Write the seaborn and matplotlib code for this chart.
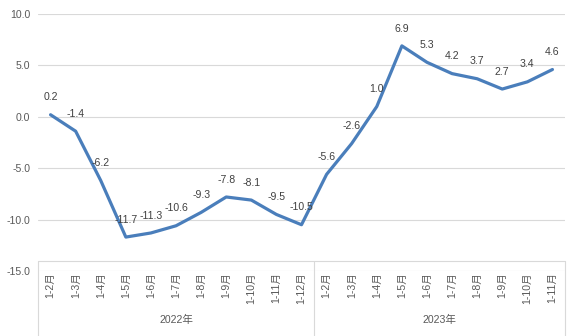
import matplotlib
matplotlib.use("Agg")
import matplotlib.pyplot as plt
from matplotlib.lines import Line2D
import seaborn as sns
import pandas as pd

categories = ["1-2月", "1-3月", "1-4月", "1-5月", "1-6月", "1-7月", "1-8月", "1-9月", "1-10月", "1-11月", "1-12月",
              "1-2月", "1-3月", "1-4月", "1-5月", "1-6月", "1-7月", "1-8月", "1-9月", "1-10月", "1-11月"]
values = [0.2, -1.4, -6.2, -11.7, -11.3, -10.6, -9.3, -7.8, -8.1, -9.5, -10.5,
          -5.6, -2.6, 1.0, 6.9, 5.3, 4.2, 3.7, 2.7, 3.4, 4.6]
years = ["2022年", "2023年"]
year_counts = [11, 10]
yticks = [10.0, 5.0, 0.0, -5.0, -10.0, -15.0]

sns.set_theme(style="white")
plt.rcParams['font.family'] = ['Liberation Sans', 'Noto Sans CJK SC', 'DejaVu Sans']

W, H = 586, 336
fig = plt.figure(figsize=(W / 100, H / 100), dpi=100)
left, right, top, bottom = 38, 565, 14, 271
ax = fig.add_axes([left / W, (H - bottom) / H, (right - left) / W, (bottom - top) / H])

df = pd.DataFrame({"idx": list(range(len(values))), "val": values})
line_color = "#4A7EBB"
sns.lineplot(data=df, x="idx", y="val", ax=ax, color=line_color, linewidth=2.3)

for i, v in enumerate(values):
    ax.annotate(f"{v:.1f}", (i, v), xytext=(0, 12.5), textcoords="offset points",
                ha="center", va="center", fontsize=7.6, color="#404040")

ax.set_xlim(-0.5, len(values) - 0.5)
ax.set_ylim(-15, 10)
ax.set_yticks(yticks)
ax.set_yticklabels([f"{t:.1f}" for t in yticks], fontsize=7.6, color="#595959")
ax.set_xticks(range(len(categories)))
ax.set_xticklabels(categories, rotation=90, fontsize=7.6, color="#595959", va="top")
ax.tick_params(axis="both", length=0)
ax.tick_params(axis="x", pad=1)
ax.tick_params(axis="y", pad=5.5)
ax.set_xlabel("")
ax.set_ylabel("")
for s in ax.spines.values():
    s.set_visible(False)
ax.grid(axis="y", color="#D9D9D9", linewidth=0.8)
ax.grid(axis="x", visible=False)

# category axis box
grey = "#D9D9D9"
box_top = (H - 260.5) / H
def xfig(d):
    return (left + (d + 0.5) * (right - left) / len(values)) / W
fig.add_artist(Line2D([left / W, right / W], [box_top, box_top], color=grey, lw=0.8))
start = 0
bounds = [-0.5]
for n in year_counts:
    start += n
    bounds.append(start - 0.5)
for b in bounds:
    fig.add_artist(Line2D([xfig(b), xfig(b)], [box_top, 0], color=grey, lw=0.8))

start = 0
for yname, n in zip(years, year_counts):
    c = (start - 0.5 + start + n - 0.5) / 2
    fig.text(xfig(c), (H - 320) / H, yname, ha="center", va="center", fontsize=7.6, color="#595959")
    start += n

fig.savefig("out.png", dpi=100)
